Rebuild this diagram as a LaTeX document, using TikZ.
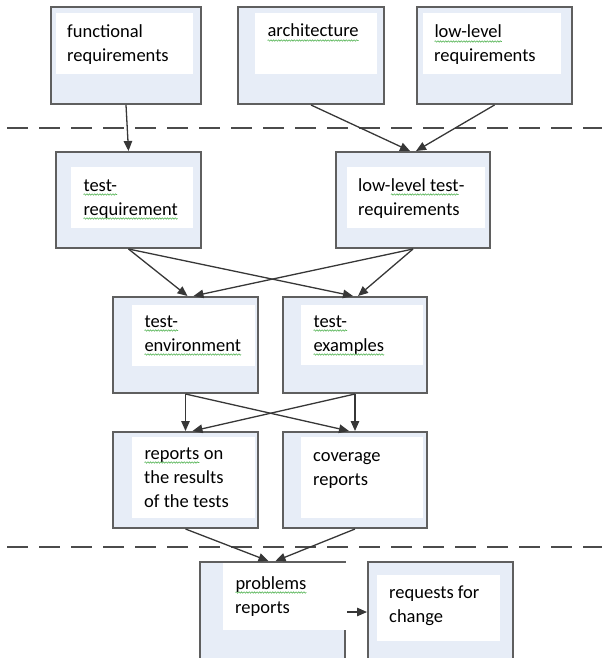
\documentclass[tikz,border=0pt]{standalone}
\usepackage{fontspec}
\setmainfont{Carlito}
\usepackage{tikz}
\usetikzlibrary{arrows.meta,decorations.pathmorphing}

\definecolor{boxfill}{RGB}{231,237,247}
\definecolor{boxline}{RGB}{95,95,95}
\definecolor{arrowline}{RGB}{55,55,55}
\definecolor{spellgreen}{RGB}{85,180,85}

% green spell-check squiggle under a word
\newcommand{\wavy}[1]{\tikz[baseline=(w.base)]{\node[inner sep=0pt, outer sep=0pt] (w) {#1};
	\draw[spellgreen, line width=0.6pt, decorate, decoration={snake, amplitude=0.7pt, segment length=2.6pt}] ([yshift=-3.5pt]w.base west) -- ([yshift=-3.5pt]w.base east);}}

\begin{document}
\begin{tikzpicture}[x=1pt, y=-1pt,
	stage/.style={draw=boxline, line width=2pt, fill=boxfill, inner sep=0pt},
	pane/.style={fill=white, inner sep=0pt},
	caption/.style={anchor=base west, align=left, inner sep=0pt, font=\fontsize{18.5}{24}\selectfont},
	flow/.style={draw=arrowline, line width=1.3pt, -{Triangle[length=10pt, width=8.5pt]}},
	divider/.style={draw=arrowline!90, line width=1.4pt, dash pattern=on 21pt off 11pt}]
	\useasboundingbox (0,0) rectangle (602,658);

	% top row: inputs (caption anchored at its last baseline)
	\node[stage, minimum width=150pt, minimum height=97pt] (func) at (126,55.5) {};
	\node[pane, minimum width=137pt, minimum height=61pt] (func-pane) at (124.5,43.5) {};
	\node[caption] (func-text) at (67,62) {functional\\requirements};

	\node[stage, minimum width=146pt, minimum height=97pt] (arch) at (311,55.5) {};
	\node[pane, minimum width=122pt, minimum height=61pt] (arch-pane) at (316,43.5) {};
	\node[caption] (arch-text) at (267,37) {\wavy{architecture}};

	\node[stage, minimum width=155pt, minimum height=97pt] (llreq) at (494.5,55.5) {};
	\node[pane, minimum width=138pt, minimum height=61pt] (llreq-pane) at (492,43.5) {};
	\node[caption] (llreq-text) at (434,62) {\wavy{low-level}\\requirements};

	\draw[divider] (7,128) -- (602,128);

	% test requirements
	\node[stage, minimum width=145pt, minimum height=96pt] (treq) at (128.5,200) {};
	\node[pane, minimum width=122pt, minimum height=61pt] (treq-pane) at (132,197.5) {};
	\node[caption] (treq-text) at (83,215) {\wavy{test-}\\\wavy{requirement}};

	\node[stage, minimum width=154pt, minimum height=96pt] (lltreq) at (413,200) {};
	\node[pane, minimum width=138pt, minimum height=61pt] (lltreq-pane) at (416,197.5) {};
	\node[caption] (lltreq-text) at (358,215) {low-\wavy{level test}-\\requirements};

	% environment and examples
	\node[stage, minimum width=145pt, minimum height=96pt] (env) at (185.5,345) {};
	\node[pane, minimum width=123pt, minimum height=61pt] (env-pane) at (193.5,335.5) {};
	\node[caption] (env-text) at (144,351) {\wavy{test-}\\\wavy{environment}};

	\node[stage, minimum width=144pt, minimum height=96pt] (exam) at (355,345) {};
	\node[pane, minimum width=122pt, minimum height=60pt] (exam-pane) at (362,335) {};
	\node[caption] (exam-text) at (313,351) {\wavy{test-}\\\wavy{examples}};

	% reports
	\node[stage, minimum width=145pt, minimum height=96pt] (rep) at (185.5,480) {};
	\node[pane, minimum width=123pt, minimum height=81pt] (rep-pane) at (193.5,477.5) {};
	\node[caption] (rep-text) at (144,507) {\wavy{reports} on\\the results\\of the tests};

	\node[stage, minimum width=144pt, minimum height=96pt] (cov) at (355,480) {};
	\node[pane, minimum width=122pt, minimum height=81pt] (cov-pane) at (362,477.5) {};
	\node[caption] (cov-text) at (313,485) {coverage\\reports};

	\draw[divider] (7,547) -- (602,547);

	% outputs
	\node[stage, minimum width=145pt, minimum height=100pt] (prob) at (272.5,612) {};
	\node[pane, minimum width=124pt, minimum height=67pt] (prob-pane) at (285,596.5) {};
	\node[caption] (prob-text) at (235,613) {\wavy{problems}\\reports};

	\node[stage, minimum width=145pt, minimum height=100pt] (req) at (440.5,612) {};
	\node[pane, minimum width=123pt, minimum height=66pt] (req-pane) at (438.5,608) {};
	\node[caption] (req-text) at (389,622) {requests for\\change};

	\draw[flow] (func.south) -- (treq.north);
	\draw[flow] (arch.south) -- ([xshift=-3pt]lltreq.north);
	\draw[flow] (llreq.south) -- ([xshift=3pt]lltreq.north);
	\draw[flow] (treq.south) -- ([xshift=2pt]env.north);
	\draw[flow] (treq.south) -- ([xshift=-2pt]exam.north);
	\draw[flow] (lltreq.south) -- ([xshift=8pt]env.north);
	\draw[flow] (lltreq.south) -- ([xshift=3pt]exam.north);
	\draw[flow] (env.south) -- (rep.north);
	\draw[flow] (env.south) -- ([xshift=-6pt]cov.north);
	\draw[flow] (exam.south) -- ([xshift=7pt]rep.north);
	\draw[flow] (exam.south) -- (cov.north);
	\draw[flow] (rep.south) -- ([xshift=-4pt]prob.north);
	\draw[flow] (cov.south) -- ([xshift=3pt]prob.north);
	\draw[flow] (prob-pane.east |- req.west) -- (req.west);
\end{tikzpicture}
\end{document}
